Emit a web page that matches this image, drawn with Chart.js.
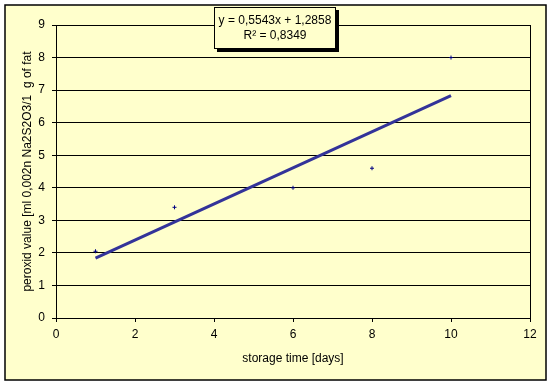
<!DOCTYPE html>
<html>
<head>
<meta charset="utf-8">
<script src="https://cdn.jsdelivr.net/npm/chart.js@4/dist/chart.umd.min.js"></script>
<style>
  html, body { margin: 0; padding: 0; background: #ffffff; }
  #wrap { width: 553px; height: 385px; position: relative; }
</style>
</head>
<body>
<div id="wrap"><canvas id="c" width="553" height="385"></canvas></div>
<script>
// ---- data ----
const storageDays = [1, 3, 6, 8, 10];
const peroxidValues = [2.05, 3.4, 4.0, 4.6, 8.0];
const trendSlope = 0.5543;
const trendIntercept = 1.2858;
const equationLines = ["y = 0,5543x + 1,2858", "R\u00B2 = 0,8349"];
const xAxisTitle = "storage time [days]";
const yAxisTitle = "peroxid value [ml 0,002n Na2S2O3/1  g of fat";

const FONT = "'Liberation Sans', Arial, sans-serif";
const BG = "#FFFFCC";

const pointsData = storageDays.map((d, i) => ({ x: d, y: peroxidValues[i] }));
const xMin = Math.min(...storageDays), xMax = Math.max(...storageDays);
const trendData = [xMin, xMax].map(x => ({ x: x, y: trendSlope * x + trendIntercept }));

const framePlugin = {
  id: 'frame',
  beforeDraw(chart) {
    const ctx = chart.ctx;
    ctx.save();
    ctx.fillStyle = '#ffffff';
    ctx.fillRect(0, 0, chart.width, chart.height);
    ctx.fillStyle = BG;
    ctx.fillRect(5, 5, 541, 375);
    ctx.strokeStyle = '#000000';
    ctx.lineWidth = 1.5;
    ctx.strokeRect(5, 5, 541, 375);
    ctx.restore();
  },
  beforeDatasetsDraw(chart) {
    const ctx = chart.ctx, a = chart.chartArea;
    ctx.save();
    ctx.strokeStyle = '#000000';
    ctx.lineWidth = 1;
    ctx.beginPath();
    ctx.moveTo(Math.round(a.right) + 0.5, a.top);
    ctx.lineTo(Math.round(a.right) + 0.5, a.bottom);
    ctx.stroke();
    ctx.restore();
  },
  afterDraw(chart) {
    const ctx = chart.ctx;
    const bx = 214, by = 7, bw = 122, bh = 42;
    ctx.save();
    ctx.fillStyle = '#000000';
    ctx.fillRect(bx + 3, by + 3, bw, bh);
    ctx.fillStyle = BG;
    ctx.fillRect(bx, by, bw, bh);
    ctx.strokeStyle = '#000000';
    ctx.lineWidth = 1;
    ctx.strokeRect(bx + 0.5, by + 0.5, bw - 1, bh - 1);
    ctx.fillStyle = '#000000';
    ctx.font = "12px " + FONT;
    ctx.textAlign = 'center';
    ctx.textBaseline = 'middle';
    ctx.fillText(equationLines[0], bx + bw / 2, by + 14);
    ctx.fillText(equationLines[1], bx + bw / 2, by + 29);
    ctx.restore();
  }
};

new Chart(document.getElementById('c'), {
  type: 'scatter',
  data: {
    datasets: [
      {
        label: 'peroxid value',
        data: pointsData,
        showLine: false,
        pointStyle: 'cross',
        pointRadius: 2,
        pointBorderWidth: 1,
        borderColor: '#000080',
        backgroundColor: '#000080',
        order: 2
      },
      {
        label: 'trend',
        type: 'line',
        data: trendData,
        borderColor: '#333399',
        borderWidth: 3,
        pointRadius: 0,
        fill: false,
        order: 1
      }
    ]
  },
  options: {
    responsive: false,
    animation: false,
    devicePixelRatio: 1,
    layout: { padding: { left: 0, right: 23, top: 25, bottom: 0 } },
    plugins: { legend: { display: false }, tooltip: { enabled: false } },
    scales: {
      x: {
        type: 'linear',
        min: 0, max: 12,
        ticks: { stepSize: 2, color: '#000', font: { family: FONT, size: 12 }, padding: 5, maxRotation: 0 },
        grid: { drawOnChartArea: false, drawTicks: true, tickLength: 4, color: '#000' },
        border: { color: '#000', width: 1 },
        title: { display: true, text: xAxisTitle, color: '#000', font: { family: FONT, size: 12 }, padding: { top: 0, bottom: 19 } },
        afterFit(scale) { scale.height = 67; }
      },
      y: {
        type: 'linear',
        min: 0, max: 9,
        ticks: { stepSize: 1, color: '#000', font: { family: FONT, size: 12 }, padding: 7 },
        grid: { color: '#000', lineWidth: 1, tickLength: 4, drawTicks: true },
        border: { color: '#000', width: 1 },
        title: { display: true, text: yAxisTitle, color: '#000', font: { family: FONT, size: 12 }, padding: { top: 20, bottom: 0 } },
        afterFit(scale) { scale.width = 56; }
      }
    }
  },
  plugins: [framePlugin]
});
</script>
</body>
</html>
